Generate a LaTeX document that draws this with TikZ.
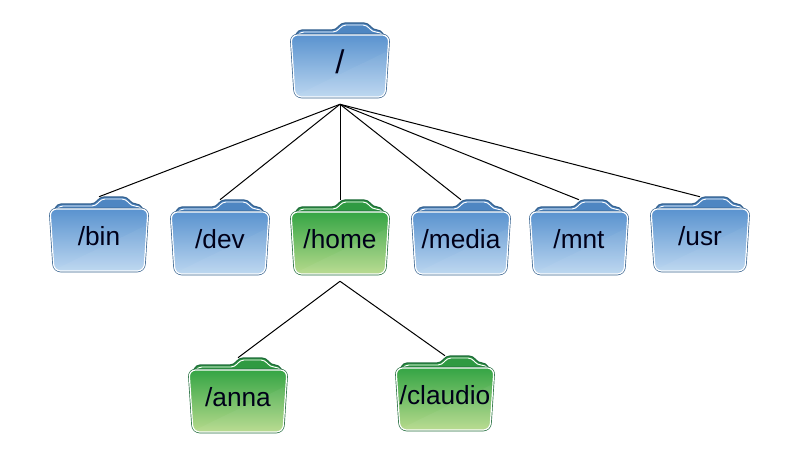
\documentclass[tikz,border=0pt]{standalone}
\usepackage{fontspec}
\setmainfont{Liberation Sans}
\usepackage{xcolor}
\usetikzlibrary{calc, positioning}

\definecolor{bluetop}{HTML}{5A93CF}
\definecolor{bluelow}{HTML}{BBD6F0}
\definecolor{blueback}{HTML}{4E86C2}
\definecolor{blueline}{HTML}{36628F}
\definecolor{greentop}{HTML}{35A545}
\definecolor{greenlow}{HTML}{B6DA8C}
\definecolor{greenback}{HTML}{2F9A42}
\definecolor{greenline}{HTML}{1F6B3A}

\tikzset{
    foldernode/.style={minimum width=73.5pt, minimum height=55.5pt, inner sep=0pt, text height=17pt, text depth=0pt, font=\fontsize{19.7}{20}\selectfont, text=black!90!blue},
    link/.style={draw=black, line width=0.75pt}
}

% one folder: name, x, y, label, colour prefix
\newcommand{\folder}[5]{
    \begin{scope}[shift={(#2,#3)}]
        \draw[draw=#5line, line width=0.9pt, fill=#5back, rounded corners=3pt] (-47,-18) -- (-42,-30) -- (-4,-30) -- (1,-37) -- (28,-37) -- (33,-30) -- (41,-30) -- (47,-18) -- cycle;
        \draw[draw=white, line width=0.7pt, rounded corners=3pt] (-43,-24) -- (-40,-28) -- (-3,-28) -- (2,-35) -- (27,-35) -- (32,-28) -- (40,-28) -- (44,-24);
        \draw[draw=#5line, line width=1.9pt, rounded corners=5pt] (-49,-25) -- (49,-25) -- (45,37) -- (-45,37) -- cycle;
        \draw[draw=white, line width=0.9pt, top color=#5top, bottom color=#5low, rounded corners=5pt] (-49,-25) -- (49,-25) -- (45,37) -- (-45,37) -- cycle;
        \fill[white, opacity=0.05] (-45,36) -- (46,-8) -- (45,32) -- (41,36) -- cycle;
    \end{scope}
    \node[foldernode] (#1) at (#2,#3) {#4};
}

\begin{document}
\begin{tikzpicture}[x=0.75pt, y=-0.75pt]
    \useasboundingbox (0,0) rectangle (794,460);

    % top level
    \folder{root}{340}{60}{\raisebox{-2pt}{\fontsize{24.6}{25}\selectfont /}}{blue}
    \folder{bin}{99}{234}{/bin}{blue}
    \folder{dev}{220}{237}{/dev}{blue}
    \folder{home}{340}{237}{/home}{green}
    \folder{media}{461}{237}{/media}{blue}
    \folder{mnt}{579}{237}{/mnt}{blue}
    \folder{usr}{700}{234}{/usr}{blue}

    % inside home
    \folder{anna}{238}{395}{/anna}{green}
    \folder{claudio}{445}{393}{/claudio}{green}

    \coordinate[below=5.25pt of root] (rootjoin);
    \coordinate[below=5.25pt of home] (homejoin);

    \foreach \sub in {bin, dev, home, media, mnt, usr}
        \draw[link] (rootjoin) -- (\sub.north);

    \foreach \sub in {anna, claudio}
        \draw[link] (homejoin) -- (\sub.north);
\end{tikzpicture}
\end{document}
